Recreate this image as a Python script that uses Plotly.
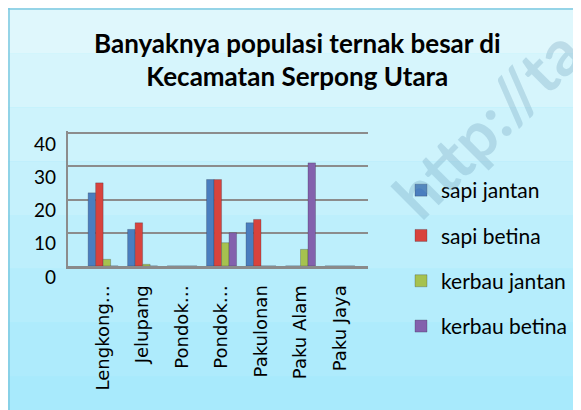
import plotly.graph_objects as go

categories = ["Lengkong…", "Jelupang", "Pondok…", "Pondok…", "Pakulonan", "Paku Alam", "Paku Jaya"]
series_names = ["sapi jantan", "sapi betina", "kerbau jantan", "kerbau betina"]
sapi_jantan = [22, 11, 0, 26, 13, 0, 0]
sapi_betina = [25, 13, 0, 26, 14, 0, 0]
kerbau_jantan = [2, 0.5, 0, 7, 0, 5, 0]
kerbau_betina = [0, 0, 0, 10, 0, 31, 0]
y_ticks = [0, 10, 20, 30, 40]

colors = ["#4a7ebf", "#d8433d", "#a6c24f", "#8361ad"]
values = [sapi_jantan, sapi_betina, kerbau_jantan, kerbau_betina]
xpos = list(range(len(categories)))

# figure geometry (px); the page body adds an 8px offset on screen
W, H = 581, 410
OFF = 8
L, R, T, B = 60, 221, 123, 152
PW, PH = W - L - R, H - T - B


def sx(s):
    return (s - OFF - L) / PW


def sy(s):
    return (H - B - (s - OFF)) / PH


fig = go.Figure()
for name, vals, c in zip(series_names, values, colors):
    fig.add_trace(go.Bar(
        x=xpos, y=vals, name=name, legendgroup=name,
        marker=dict(color=c, line=dict(color="rgba(40,40,60,0.45)", width=0.6)),
    ))

# background panel bands (light cyan gradient approximation)
shapes = []
band_cols = ["#dff7fc", "#d6f5fc", "#cdf3fc", "#c5f1fc", "#bdeffc", "#b5edfc",
             "#aeebfc", "#a8eafc"]
n = len(band_cols)
top_px, bot_px = 0, 430
for i, bc in enumerate(band_cols):
    t = top_px + (bot_px - top_px) * i / n
    b = top_px + (bot_px - top_px) * (i + 1) / n
    shapes.append(dict(type="rect", xref="paper", yref="paper", layer="below",
                       x0=sx(0), x1=sx(600), y0=sy(b), y1=sy(t),
                       fillcolor=bc, line=dict(width=0)))
shapes.append(dict(type="line", xref="paper", yref="paper", layer="below",
                   x0=sx(9), x1=sx(9), y0=sy(8), y1=sy(430),
                   line=dict(color="#7cc9e0", width=1.5)))
shapes.append(dict(type="line", xref="paper", yref="paper", layer="below",
                   x0=sx(8), x1=sx(600), y0=sy(9), y1=sy(9),
                   line=dict(color="#7cc9e0", width=1.5)))

annotations = [dict(text="<b>http://ta</b>", xref="paper", yref="paper",
                    x=sx(487), y=sy(123), xanchor="center", yanchor="middle",
                    showarrow=False, textangle=-45,
                    font=dict(size=64, color="rgba(110,160,185,0.30)",
                              family="Lato, sans-serif"))]
for v in y_ticks:
    annotations.append(dict(text=str(v), xref="paper", yref="y", x=0, y=v,
                            xanchor="right", yanchor="middle", showarrow=False,
                            xshift=-10, yshift=-10,
                            font=dict(size=19, color="#000000")))

fig.update_layout(
    width=W, height=H,
    margin=dict(l=L, r=R, t=T, b=B),
    paper_bgcolor="#a8eafc",
    plot_bgcolor="rgba(0,0,0,0)",
    font=dict(family="Lato, 'Open Sans', sans-serif", color="#000000"),
    title=dict(
        text="<b>Banyaknya populasi ternak besar di<br>Kecamatan Serpong Utara</b>",
        x=0.498, xanchor="center", y=1 - 44.5 / H, yanchor="middle",
        font=dict(size=26, color="#000000", family="Lato, 'Open Sans', sans-serif"),
    ),
    barmode="group", bargap=0.24, bargroupgap=0.0,
    showlegend=True,
    legend=dict(x=sx(401), xanchor="left", y=sy(170), yanchor="top",
                font=dict(size=21, color="#000000"), maxheight=400,
                tracegroupgap=15, bgcolor="rgba(0,0,0,0)", itemwidth=30),
    xaxis=dict(
        tickmode="array", tickvals=xpos, ticktext=categories,
        tickangle=-90, range=[-0.89, 6.71],
        tickfont=dict(size=18, color="#000000", family="'DejaVu Sans', sans-serif"),
        showgrid=False, showline=True, linecolor="#8a8a8a", linewidth=3,
        ticks="", zeroline=False, ticklabelstandoff=9,
    ),
    yaxis=dict(
        tickmode="array", tickvals=y_ticks, range=[0, 40.6],
        showticklabels=False,
        showgrid=True, gridcolor="#8c8c8c", gridwidth=2,
        showline=True, linecolor="#8c8c8c", linewidth=2,
        zeroline=False, ticks="",
    ),
    shapes=shapes,
    annotations=annotations,
)

fig.write_html("out.html")
